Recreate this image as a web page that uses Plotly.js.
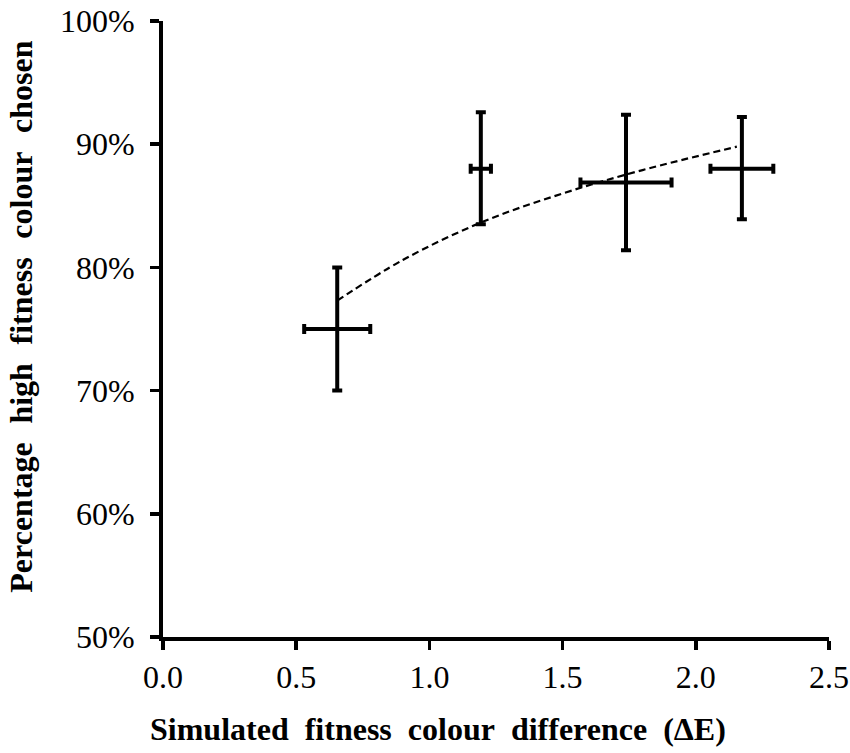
<!DOCTYPE html>
<html>
<head>
<meta charset="utf-8">
<script src="https://cdn.plot.ly/plotly-3.0.1.min.js"></script>
<style>
  html, body { margin: 0; padding: 0; background: #fff; }
  #chart { width: 850px; height: 753px; }
</style>
</head>
<body>
<div id="chart"></div>
<script>
// simulated colour difference (deltaE) and its spread
const deltaE = [0.654, 1.193, 1.738, 2.173];
const deltaEErr = [0.124, 0.038, 0.171, 0.118];

// percentage of high fitness colour chosen, with error
const pctChosen = [75.0, 88.0, 86.9, 88.0];
const pctErrUp = [5.0, 4.6, 5.5, 4.2];
const pctErrDown = [5.0, 4.5, 5.5, 4.1];

// dashed trend line
const trendX = [0.654, 0.9, 1.2, 1.5, 1.8, 2.154];
const trendY = [77.3, 80.6, 83.7, 86.0, 87.9, 89.8];

const xTicks = [0, 0.5, 1.0, 1.5, 2.0, 2.5];
const xTickText = ['0.0', '0.5', '1.0', '1.5', '2.0', '2.5'];
const yTicks = [50, 60, 70, 80, 90, 100];
const yTickText = ['50%', '60%', '70%', '80%', '90%', '100%'];

const sp = '\u00A0\u00A0';
const spY = '\u00A0\u00A0\u200A';
const font = 'Liberation Serif, Times New Roman, serif';

var trend = {
  x: trendX,
  y: trendY,
  mode: 'lines',
  line: {color: 'black', width: 2.2, dash: '7px,4px', shape: 'spline'},
  hoverinfo: 'skip'
};

var points = {
  x: deltaE,
  y: pctChosen,
  mode: 'markers',
  marker: {color: 'black', size: 3},
  error_x: {type: 'data', array: deltaEErr, color: 'black', thickness: 4, width: 5},
  error_y: {type: 'data', symmetric: false, array: pctErrUp, arrayminus: pctErrDown,
            color: 'black', thickness: 4, width: 5}
};

var axisStyle = {
  ticks: 'outside',
  ticklen: 9,
  tickwidth: 3.5,
  tickcolor: 'black',
  showline: true,
  linewidth: 4,
  linecolor: 'black',
  showgrid: false,
  zeroline: false,
  tickfont: {family: font, size: 32, color: 'black'}
};

var layout = {
  width: 850,
  height: 753,
  showlegend: false,
  paper_bgcolor: 'white',
  plot_bgcolor: 'white',
  font: {family: font, size: 32, color: 'black'},
  margin: {l: 163, r: 21, t: 21, b: 116, pad: 0},
  xaxis: Object.assign({
    range: [0, 2.5],
    tickmode: 'array',
    tickvals: xTicks,
    ticktext: xTickText
  }, axisStyle),
  yaxis: Object.assign({
    range: [50, 100],
    tickmode: 'array',
    tickvals: yTicks,
    ticktext: yTickText,
    ticklabelstandoff: 9
  }, axisStyle),
  annotations: [
    {
      text: 'Simulated' + sp + 'fitness' + sp + 'colour' + sp + 'difference' + sp + '(ΔE)',
      xref: 'paper', yref: 'paper',
      x: 0.413, y: -0.149,
      xanchor: 'center', yanchor: 'middle',
      showarrow: false,
      font: {family: font, size: 32, weight: 'bold', color: 'black'}
    },
    {
      text: 'Percentage' + spY + 'high' + spY + 'fitness' + spY + 'colour' + spY + 'chosen',
      xref: 'paper', yref: 'paper',
      x: -0.2132, y: 0.52,
      xanchor: 'center', yanchor: 'middle',
      textangle: -90,
      showarrow: false,
      font: {family: font, size: 32, weight: 'bold', color: 'black'}
    }
  ]
};

Plotly.newPlot('chart', [trend, points], layout, {displayModeBar: false, staticPlot: true});
</script>
</body>
</html>
